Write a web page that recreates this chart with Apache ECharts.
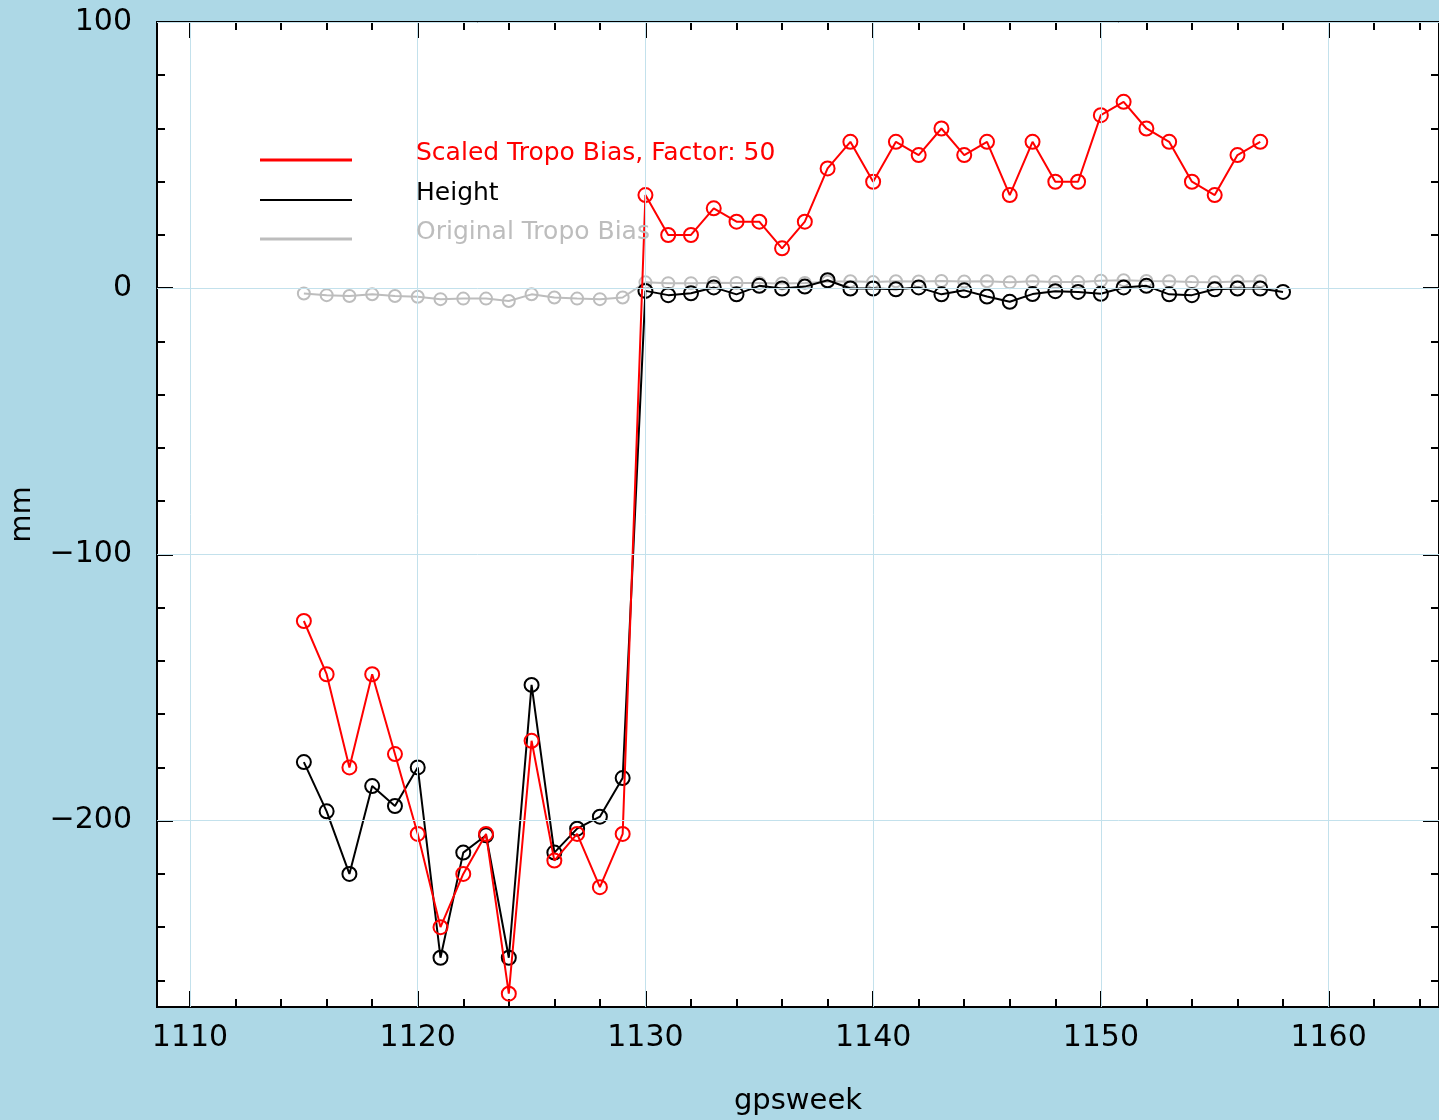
<!DOCTYPE html>
<html>
<head>
<meta charset="utf-8">
<title>Tropo bias vs height</title>
<script src="https://cdn.jsdelivr.net/npm/echarts@6/dist/echarts.min.js"></script>
<style>
    html, body { margin: 0; padding: 0; background: #add8e6; }
    #chart { width: 1439px; height: 1120px; }
</style>
</head>
<body>
<div id="chart"></div>
<script>
// gps weeks of the samples
var weeks = [1115, 1116, 1117, 1118, 1119, 1120, 1121, 1122, 1123, 1124, 1125, 1126, 1127, 1128, 1129,
    1130, 1131, 1132, 1133, 1134, 1135, 1136, 1137, 1138, 1139, 1140, 1141, 1142, 1143, 1144,
    1145, 1146, 1147, 1148, 1149, 1150, 1151, 1152, 1153, 1154, 1155, 1156, 1157, 1158];

// Scaled Tropo Bias, Factor: 50 (1115 .. 1157)
var tropoScaled = [-125, -145, -180, -145, -175, -205, -240, -220, -205, -265, -170, -215, -205, -225, -205,
    35, 20, 20, 30, 25, 25, 15, 25, 45, 55, 40, 55, 50, 60, 50,
    55, 35, 55, 40, 40, 65, 70, 60, 55, 40, 35, 50, 55];

// Height (1115 .. 1158)
var height = [-178, -196.5, -220, -187, -194.5, -180, -251.5, -212, -205.5, -251.5, -149, -212, -203, -198.5, -184,
    -1.0, -2.6, -1.9, 0.3, -2.3, 0.9, -0.1, 0.6, 3.0, -0.1, -0.1, -0.4, 0.3, -2.3, -0.8,
    -3.1, -5.1, -2.2, -1.1, -1.4, -2.1, 0.3, 0.9, -2.3, -2.6, -0.4, -0.1, -0.1, -1.4];

// Original Tropo Bias (1115 .. 1157)
var tropoOrig = [-2.0, -2.6, -2.9, -2.3, -2.9, -3.2, -4.1, -3.9, -3.9, -4.8, -2.3, -3.5, -3.9, -4.1, -3.5,
    2.2, 1.9, 1.9, 2.1, 2.0, 2.0, 1.8, 2.0, 2.4, 2.6, 2.3, 2.6, 2.5, 2.7, 2.5,
    2.6, 2.2, 2.6, 2.3, 2.3, 2.8, 3.0, 2.7, 2.6, 2.3, 2.2, 2.5, 2.6];

var xMajorTicks = [1110, 1120, 1130, 1140, 1150, 1160];
var xMinorTicks = [1110, 1112, 1114, 1116, 1118, 1120, 1122, 1124, 1126, 1128, 1130, 1132, 1134, 1136,
    1138, 1140, 1142, 1144, 1146, 1148, 1150, 1152, 1154, 1156, 1158, 1160, 1162, 1164];
var yMajorTicks = [100, 0, -100, -200];
var yMinorTicks = [80, 60, 40, 20, -20, -40, -60, -80, -120, -140, -160, -180, -220, -240, -260];

var legendNames = ['Scaled Tropo Bias, Factor: 50', 'Height', 'Original Tropo Bias'];
var legendColors = ['#ff0000', '#000000', '#bdbdbd'];

var X_MIN = 1108.55, X_MAX = 1164.85;
var Y_MIN = -270, Y_MAX = 100;
var FONT = 'DejaVu Sans';

function pairs(ys) {
    return ys.map(function (v, i) { return [weeks[i], v]; });
}

function axisBase(type, pos, ticks, len, labels) {
    var ax = {
        type: 'value',
        position: pos,
        min: type === 'x' ? X_MIN : Y_MIN,
        max: type === 'x' ? X_MAX : Y_MAX,
        axisLine: { show: false, onZero: false },
        splitLine: { show: false },
        axisTick: {
            show: true, inside: true, length: len, customValues: ticks,
            lineStyle: { color: '#000', width: 2 }
        },
        axisLabel: { show: false }
    };
    if (labels) {
        ax.axisLabel = {
            show: true,
            customValues: labels,
            color: '#000',
            fontFamily: FONT,
            fontSize: 30,
            margin: type === 'x' ? 16 : 25,
            formatter: function (v) { return String(v).replace('-', '\u2212'); }
        };
    }
    return ax;
}

var chart = echarts.init(document.getElementById('chart'));

var xAxes = [
    axisBase('x', 'bottom', xMajorTicks, 16, xMajorTicks),
    axisBase('x', 'bottom', xMinorTicks, 8),
    axisBase('x', 'top', xMajorTicks, 16),
    axisBase('x', 'top', xMinorTicks, 8)
];
xAxes[0].name = 'gpsweek';
xAxes[0].nameLocation = 'middle';
xAxes[0].nameGap = 80;
xAxes[0].nameTextStyle = { color: '#000', fontFamily: FONT, fontSize: 29 };

var yAxes = [
    axisBase('y', 'left', yMajorTicks, 16, yMajorTicks),
    axisBase('y', 'left', yMinorTicks, 8),
    axisBase('y', 'right', yMajorTicks, 16),
    axisBase('y', 'right', yMinorTicks, 8)
];
yAxes[0].name = 'mm';
yAxes[0].nameLocation = 'middle';
yAxes[0].nameGap = 120;
yAxes[0].nameTextStyle = { color: '#000', fontFamily: FONT, fontSize: 29 };

// grid lines at the major ticks
var gridLines = xMajorTicks.map(function (v) { return { xAxis: v }; })
    .concat(yMajorTicks.map(function (v) { return { yAxis: v }; }));

function lineSeries(name, ys, color, size, z) {
    return {
        name: name,
        type: 'line',
        data: pairs(ys),
        z: z,
        symbol: 'circle',
        symbolSize: size,
        itemStyle: { color: 'rgba(0,0,0,0)', borderColor: color, borderWidth: 2 },
        lineStyle: { color: color, width: 2 },
        emphasis: { disabled: true }
    };
}

var legendGraphics = [];
var legendY = [160, 200, 239];
var lineWidths = [3, 2, 3];
legendNames.forEach(function (n, i) {
    legendGraphics.push({
        type: 'line',
        shape: { x1: 260, y1: legendY[i], x2: 352, y2: legendY[i] },
        style: { stroke: legendColors[i], lineWidth: lineWidths[i] },
        z: 100
    });
    legendGraphics.push({
        type: 'text',
        x: 416,
        y: legendY[i] - 7,
        style: {
            text: n, fill: legendColors[i],
            font: '25px "' + FONT + '"',
            verticalAlign: 'middle'
        },
        z: 100
    });
});

var option = {
    backgroundColor: '#add8e6',
    animation: false,
    grid: {
        left: 157, right: 0, top: 22, bottom: 113,
        outerBoundsMode: 'none',
        containLabel: false,
        show: true, backgroundColor: '#fff',
        borderColor: '#000', borderWidth: 2
    },
    xAxis: xAxes,
    yAxis: yAxes,
    graphic: legendGraphics,
    series: [
        {
            name: 'grid',
            type: 'line',
            data: [],
            z: 1,
            markLine: {
                silent: true,
                symbol: 'none',
                label: { show: false },
                lineStyle: { color: '#c3e1ec', width: 1, type: 'solid' },
                data: gridLines
            }
        },
        lineSeries(legendNames[2], tropoOrig, legendColors[2], 12, 2),
        lineSeries(legendNames[1], height, legendColors[1], 14, 3),
        lineSeries(legendNames[0], tropoScaled, legendColors[0], 14, 4)
    ]
};

chart.setOption(option);
</script>
</body>
</html>
